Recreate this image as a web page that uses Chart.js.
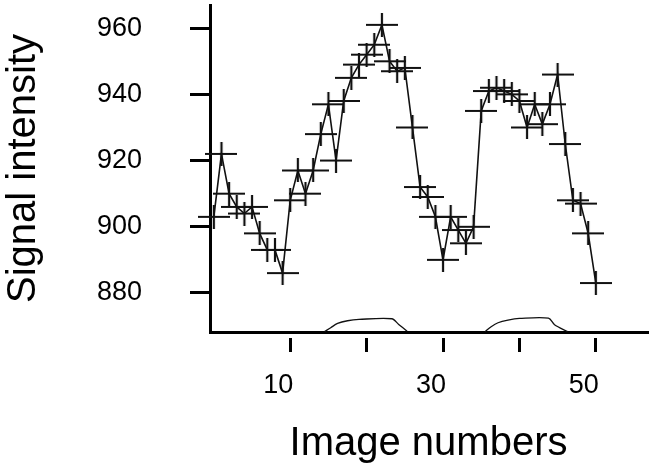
<!DOCTYPE html>
<html>
<head>
<meta charset="utf-8">
<script src="https://cdn.jsdelivr.net/npm/chart.js@4"></script>
<style>
  html, body { margin: 0; padding: 0; background: #fff; }
  #wrap { width: 650px; height: 472px; }
</style>
</head>
<body>
<div id="wrap"><canvas id="signalChart"></canvas></div>
<script>
// image number and measured signal intensity
const imageNumbers = [0, 1, 2, 3, 4, 5, 6, 7, 8, 9, 10, 11, 12, 13, 14, 15, 16, 17, 18, 19, 20,
  21, 22, 23, 24, 25, 26, 27, 28, 29, 30, 31, 32, 33, 34, 35, 36, 37, 38, 39, 40,
  41, 42, 43, 44, 45, 46, 47, 48, 49, 50];
const signal = [903, 922, 910, 906, 904, 906, 898, 893, 893, 886, 908, 917, 910, 917, 928, 937, 920,
  938, 945, 949, 952, 955, 961, 950, 947, 948, 930, 912, 909, 903, 890, 903, 899, 895, 900,
  935, 941, 942, 941, 940, 938, 930, 937, 931, 937, 946, 925, 908, 907, 898, 883];

// stimulus blocks drawn along the bottom (null splits the two blocks)
const stimulusX = [14.5, 15.3, 16.2, 17.5, 19, 23.3, 24.2, 25.3, null,
  35.5, 36.3, 37.2, 38.5, 40, 43.8, 44.6, 46.3];
const stimulusY = [868.3, 869.5, 870.8, 871.6, 872, 872.2, 870.5, 868.4, null,
  868.3, 869.8, 871, 871.8, 872.3, 872.4, 870.4, 868.3];

const xTicks = [10, 20, 30, 40, 50];
const xLabels = [10, 30, 50];
const yTicks = [880, 900, 920, 940, 960];

// "+" marker, wider than tall
const cross = document.createElement('canvas');
cross.width = 32;
cross.height = 24;
const cc = cross.getContext('2d');
cc.strokeStyle = '#111';
cc.lineWidth = 2.2;
cc.beginPath();
cc.moveTo(0, 12); cc.lineTo(32, 12);
cc.moveTo(16, 0); cc.lineTo(16, 24);
cc.stroke();

const font = 'Liberation Sans, Arial, Helvetica, sans-serif';

const ctx = document.getElementById('signalChart').getContext('2d');
new Chart(ctx, {
  type: 'line',
  data: {
    datasets: [{
      data: imageNumbers.map((n, i) => ({ x: n, y: signal[i] })),
      borderColor: '#111',
      borderWidth: 1.6,
      pointStyle: cross,
      pointRadius: 10,
      tension: 0,
      clip: false
    }, {
      data: stimulusX.map((x, i) => (x === null ? { x: 30, y: null } : { x: x, y: stimulusY[i] })),
      borderColor: '#111',
      borderWidth: 1.3,
      pointRadius: 0,
      tension: 0.3,
      spanGaps: false
    }]
  },
  options: {
    responsive: true,
    maintainAspectRatio: false,
    animation: false,
    layout: { autoPadding: false, padding: { top: 5, right: 3, left: 0, bottom: 0 } },
    plugins: {
      legend: { display: false },
      tooltip: { enabled: false }
    },
    scales: {
      x: {
        type: 'linear',
        min: -0.5,
        max: 56.7,
        border: { color: '#000', width: 3 },
        grid: {
          drawOnChartArea: false,
          color: '#000',
          lineWidth: 3,
          tickLength: 20,
          tickBorderDash: [0, 4, 16, 100]
        },
        afterBuildTicks: s => { s.ticks = xTicks.map(v => ({ value: v })); },
        afterFit: s => { s.height = 140; },
        ticks: {
          color: '#000',
          font: { family: font, size: 27 },
          padding: 17,
          labelOffset: -12,
          maxRotation: 0,
          callback: v => (xLabels.includes(v) ? String(v) : '')
        },
        title: {
          display: true,
          text: 'Image numbers',
          color: '#000',
          font: { family: font, size: 40 },
          padding: { top: 0, bottom: 4 }
        }
      },
      y: {
        min: 868.2,
        max: 967,
        border: { color: '#000', width: 3 },
        grid: {
          drawOnChartArea: false,
          color: '#000',
          lineWidth: 3,
          tickLength: 20
        },
        afterBuildTicks: s => { s.ticks = yTicks.map(v => ({ value: v })); },
        // fixed width; the big label gap must not eat vertical room
        afterFit: s => { s.width = 210; s.paddingTop = 0; s.paddingBottom = 0; },
        ticks: {
          color: '#000',
          font: { family: font, size: 27 },
          padding: 48
        },
        title: {
          display: true,
          text: 'Signal intensity',
          color: '#000',
          font: { family: font, size: 40 },
          padding: { top: 0, bottom: 0 }
        }
      }
    }
  }
});
</script>
</body>
</html>
